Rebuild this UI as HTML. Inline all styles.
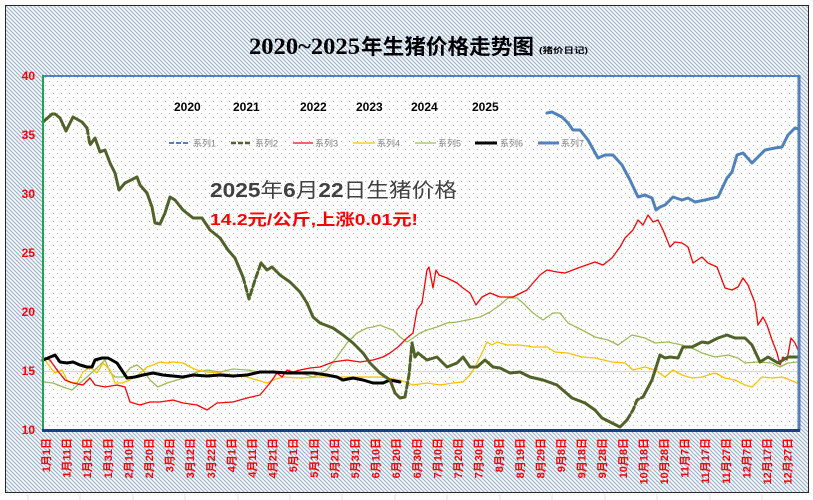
<!DOCTYPE html>
<html><head><meta charset="utf-8"><style>
html,body{margin:0;padding:0;background:#fff;}
svg{display:block;}
text{font-family:"Liberation Sans","Noto Sans CJK SC",sans-serif;}
</style></head><body>
<svg width="813" height="500" viewBox="0 0 813 500" xmlns="http://www.w3.org/2000/svg">
<defs>
<pattern id="hatch" patternUnits="userSpaceOnUse" width="4" height="4">
<rect width="4" height="4" fill="#ffffff"/>
<path d="M-1,-1 L5,5 M-1,3 L1,5 M3,-1 L5,1" stroke="#9ab2d8" stroke-width="1.2"/>
</pattern>
<pattern id="dots" patternUnits="userSpaceOnUse" width="8" height="8">
<rect width="8" height="8" fill="#ffffff"/>
<rect x="1" y="1" width="1" height="1" fill="#b0b0b0"/>
<rect x="5" y="5" width="1" height="1" fill="#b0b0b0"/>
</pattern>
</defs>
<rect width="813" height="500" fill="#fff"/>
<g stroke="#e2e2e2" stroke-width="1">
<line x1="28" y1="494" x2="28" y2="500"/><line x1="80" y1="494" x2="80" y2="500"/><line x1="133" y1="494" x2="133" y2="500"/><line x1="185" y1="494" x2="185" y2="500"/><line x1="238" y1="494" x2="238" y2="500"/><line x1="290" y1="494" x2="290" y2="500"/><line x1="342" y1="494" x2="342" y2="500"/><line x1="395" y1="494" x2="395" y2="500"/><line x1="447" y1="494" x2="447" y2="500"/><line x1="500" y1="494" x2="500" y2="500"/><line x1="552" y1="494" x2="552" y2="500"/><line x1="605" y1="494" x2="605" y2="500"/><line x1="657" y1="494" x2="657" y2="500"/><line x1="710" y1="494" x2="710" y2="500"/><line x1="762" y1="494" x2="762" y2="500"/>
</g>
<rect x="5.5" y="5.5" width="803" height="487" fill="url(#hatch)" stroke="#2a2a2a" stroke-width="1"/>

<!-- title -->
<text x="249" y="54" style="font-family:'Liberation Serif',serif;font-weight:bold;font-size:23px" textLength="111" lengthAdjust="spacingAndGlyphs" fill="#000">2020~2025</text>
<text x="361" y="54" style="font-family:'Noto Sans CJK SC',sans-serif;font-weight:bold;font-size:21px" textLength="173" lengthAdjust="spacingAndGlyphs" fill="#000">年生猪价格走势图</text>
<text x="539" y="53" font-weight="bold" font-size="8" textLength="49" lengthAdjust="spacingAndGlyphs" fill="#000">(猪价日记)</text>

<!-- plot area -->
<rect x="43" y="76" width="756" height="354" fill="url(#dots)"/>
<line x1="43" y1="371.5" x2="799" y2="371.5" stroke="#d6d6d6" stroke-width="1"/>

<!-- y labels -->
<g font-weight="bold" font-size="12" fill="#ff0000" text-anchor="end">
<text x="35" y="80">40</text>
<text x="35" y="139">35</text>
<text x="35" y="198">30</text>
<text x="35" y="257">25</text>
<text x="35" y="316">20</text>
<text x="35" y="375">15</text>
<text x="35" y="434">10</text>
</g>

<!-- year labels -->
<g font-weight="bold" font-size="12" fill="#000">
<text x="174" y="111">2020</text>
<text x="233" y="111">2021</text>
<text x="300" y="111">2022</text>
<text x="356" y="111">2023</text>
<text x="411" y="111">2024</text>
<text x="472" y="111">2025</text>
</g>

<!-- legend -->
<g font-size="9" fill="#7f7f7f">
<line x1="169" y1="143" x2="190" y2="143" stroke="#4f81bd" stroke-width="2" stroke-dasharray="5 2"/>
<text x="193" y="146.5">系列1</text>
<line x1="231" y1="143" x2="252" y2="143" stroke="#4f6228" stroke-width="2.5" stroke-dasharray="5 2"/>
<text x="255" y="146.5">系列2</text>
<line x1="293" y1="143" x2="313" y2="143" stroke="#ff0000" stroke-width="1.3"/>
<text x="315" y="146.5">系列3</text>
<line x1="353" y1="143" x2="375" y2="143" stroke="#ffc000" stroke-width="1.3"/>
<text x="377" y="146.5">系列4</text>
<line x1="415" y1="143" x2="436" y2="143" stroke="#9bbb59" stroke-width="1.3"/>
<text x="438" y="146.5">系列5</text>
<line x1="475" y1="143" x2="497" y2="143" stroke="#000" stroke-width="3"/>
<text x="500" y="146.5">系列6</text>
<line x1="538" y1="143" x2="559" y2="143" stroke="#4f81bd" stroke-width="3"/>
<text x="561" y="146.5">系列7</text>
</g>

<!-- annotation -->
<text x="210" y="197" font-size="20" fill="#404040" textLength="247" lengthAdjust="spacingAndGlyphs"><tspan font-weight="bold">2025</tspan>年<tspan font-weight="bold">6</tspan>月<tspan font-weight="bold">22</tspan>日生猪价格</text>
<text x="210" y="225" font-size="16" font-weight="bold" fill="#ff0000" textLength="208" lengthAdjust="spacingAndGlyphs">14.2元/公斤,上涨0.01元!</text>

<!-- series -->
<g fill="none" stroke-linejoin="round" stroke-linecap="round">
<polyline stroke="#9bbb59" stroke-width="1.3" points="43,382 53,383 63,387 72,390 80,383 87,377 97,368 105,360 110,372 115,377 123,377 130,368 137,365 143,370 150,380 158,387 167,383 177,380 187,377 197,372 207,370 220,372 233,369 247,370 260,372 273,371 287,372 300,373 313,377 327,370 337,357 347,343 357,333 367,328 373,327 380,325 387,328 393,330 400,337 407,342 413,338 420,333 427,330 437,327 447,323 457,322 467,320 480,317 490,312 500,305 508,298 517,298 523,303 533,313 543,320 553,313 560,313 568,323 582,330 595,337 608,340 618,345 632,335 645,338 655,343 668,342 682,345 692,348 702,353 715,357 728,355 738,358 745,363 758,362 772,363 780,367 788,363 797,362"/>
<polyline stroke="#ffc000" stroke-width="1.3" points="43,357 50,367 55,373 62,370 68,382 77,383 83,372 90,367 97,373 103,363 110,370 115,383 122,383 130,380 138,375 147,367 153,365 160,362 167,363 173,362 183,363 190,367 197,370 207,372 220,373 233,375 247,377 257,380 267,383 273,380 283,377 300,378 320,377 340,377 360,377 380,377 400,380 413,385 427,383 440,385 453,383 463,382 470,375 475,367 482,353 487,342 492,345 497,342 507,345 520,345 533,347 547,347 555,352 568,353 582,357 595,358 612,362 625,363 633,370 645,367 655,370 665,377 673,370 682,375 692,378 702,377 715,373 725,378 735,380 745,385 752,387 762,377 772,378 782,377 790,380 797,383"/>
<polyline stroke="#ff0000" stroke-width="1.3" points="43,358 50,360 57,370 65,380 73,383 83,385 90,378 95,385 105,387 117,385 125,387 130,402 140,405 150,402 160,402 173,400 183,403 197,405 207,410 217,403 233,402 247,398 260,395 270,383 277,373 282,377 287,370 293,372 300,370 310,368 320,367 333,362 347,360 360,362 373,360 383,357 390,353 398,347 407,338 413,333 417,310 422,303 427,270 429,267 433,288 436,270 439,275 447,278 457,283 463,288 470,293 476,305 482,297 490,293 500,297 513,297 527,290 533,283 540,275 547,270 557,272 565,273 578,268 595,262 603,265 612,258 620,247 625,238 633,230 638,220 643,225 648,215 653,222 658,220 663,230 670,247 675,242 682,243 688,247 693,263 702,257 708,263 717,267 725,288 732,290 738,287 743,278 748,285 755,303 758,325 763,317 767,325 772,340 777,353 780,365 783,357 787,360 791,338 795,343 798,350"/>
<polyline stroke="#000" stroke-width="3" points="43,360 48,358 55,355 60,362 67,363 73,362 80,365 87,367 92,367 95,360 102,358 108,358 117,363 123,372 127,378 135,377 143,375 153,373 163,375 173,376 183,377 193,375 207,376 220,375 233,376 247,375 260,372 273,372 287,373 300,373 313,373 327,375 337,377 343,380 353,378 363,380 373,383 383,383 390,380 400,382"/>
<g stroke="#4f6228" stroke-width="3">
<polyline points="43,122 52,114 55,114 60,118 66,131 73,117 82,122 87,128"/>
<polyline stroke-dasharray="6 3" points="87,128 90,145 95,138"/>
<polyline points="95,138 100,152 105,150 110,163 115,173 119,190 125,183 137,177 140,185 147,193 152,207 155,223 160,224 165,213 170,197 175,200 183,210 193,218 202,218 210,230 220,238 228,250 235,258 243,277"/>
<polyline stroke-dasharray="6 3" points="243,277 249,299 255,280 261,263"/>
<polyline points="261,263 267,270 272,267 280,275 290,282 300,292 307,303 313,317 320,323 333,328 343,335 353,343 363,353 370,363 380,373 390,380 395,393 400,398 405,397"/>
<polyline stroke-dasharray="6 3" points="405,397 409,375 412,343"/>
<polyline points="412,343 415,357 418,353 427,360 437,357 447,367 457,363 463,357 470,367 477,367 485,360 493,367 500,368 510,373 520,372 530,377 543,380 557,385 572,398 585,403 595,410 602,418 612,423 620,427 627,420"/>
<polyline stroke-dasharray="6 3" points="627,420 633,410 637,400 643,397"/>
<polyline points="643,397 652,380 660,355 665,358 670,357 678,358 683,347 692,347 702,342 708,343 718,338 727,335 735,338 745,338 752,345 760,362 768,357 778,363 788,357 798,357"/>
</g>
<polyline stroke="#4f81bd" stroke-width="3" points="547,113 552,112 562,117 568,123 573,130 580,130 588,140 598,158 605,155 613,155 622,165 630,180 638,197 645,195 652,198 656,210 660,207 665,205 673,197 682,200 688,198 695,202 705,200 718,197 727,178 732,172 737,155 743,153 752,163 758,157 765,150 775,148 782,147 788,135 795,128 799,129"/>
</g>

<!-- plot borders -->
<line x1="43" y1="76" x2="800" y2="76" stroke="#4f81bd" stroke-width="2"/>
<line x1="799" y1="75" x2="799" y2="431" stroke="#4f81bd" stroke-width="3"/>
<line x1="43" y1="75" x2="43" y2="431" stroke="#1ea552" stroke-width="2"/>
<line x1="42" y1="430.5" x2="800" y2="430.5" stroke="#1f3a93" stroke-width="3"/>

<!-- x labels -->
<g font-size="11" font-weight="bold" fill="#ff0000" text-anchor="end">
<text transform="translate(50,438) rotate(-90)">1月1日</text>
<text transform="translate(70.6,438) rotate(-90)">1月11日</text>
<text transform="translate(91.2,438) rotate(-90)">1月21日</text>
<text transform="translate(111.8,438) rotate(-90)">1月31日</text>
<text transform="translate(132.4,438) rotate(-90)">2月10日</text>
<text transform="translate(153,438) rotate(-90)">2月20日</text>
<text transform="translate(173.6,438) rotate(-90)">3月2日</text>
<text transform="translate(194.2,438) rotate(-90)">3月12日</text>
<text transform="translate(214.8,438) rotate(-90)">3月22日</text>
<text transform="translate(235.4,438) rotate(-90)">4月1日</text>
<text transform="translate(256,438) rotate(-90)">4月11日</text>
<text transform="translate(276.6,438) rotate(-90)">4月21日</text>
<text transform="translate(297.2,438) rotate(-90)">5月1日</text>
<text transform="translate(317.8,438) rotate(-90)">5月11日</text>
<text transform="translate(338.4,438) rotate(-90)">5月21日</text>
<text transform="translate(359,438) rotate(-90)">5月31日</text>
<text transform="translate(379.6,438) rotate(-90)">6月10日</text>
<text transform="translate(400.2,438) rotate(-90)">6月20日</text>
<text transform="translate(420.8,438) rotate(-90)">6月30日</text>
<text transform="translate(441.4,438) rotate(-90)">7月10日</text>
<text transform="translate(462,438) rotate(-90)">7月20日</text>
<text transform="translate(482.6,438) rotate(-90)">7月30日</text>
<text transform="translate(503.2,438) rotate(-90)">8月9日</text>
<text transform="translate(523.8,438) rotate(-90)">8月19日</text>
<text transform="translate(544.4,438) rotate(-90)">8月29日</text>
<text transform="translate(565,438) rotate(-90)">9月8日</text>
<text transform="translate(585.6,438) rotate(-90)">9月18日</text>
<text transform="translate(606.2,438) rotate(-90)">9月28日</text>
<text transform="translate(626.8,438) rotate(-90)">10月8日</text>
<text transform="translate(647.4,438) rotate(-90)">10月18日</text>
<text transform="translate(668,438) rotate(-90)">10月28日</text>
<text transform="translate(688.6,438) rotate(-90)">11月7日</text>
<text transform="translate(709.2,438) rotate(-90)">11月17日</text>
<text transform="translate(729.8,438) rotate(-90)">11月27日</text>
<text transform="translate(750.4,438) rotate(-90)">12月7日</text>
<text transform="translate(771,438) rotate(-90)">12月17日</text>
<text transform="translate(791.6,438) rotate(-90)">12月27日</text>
</g>
</svg>
</body></html>
